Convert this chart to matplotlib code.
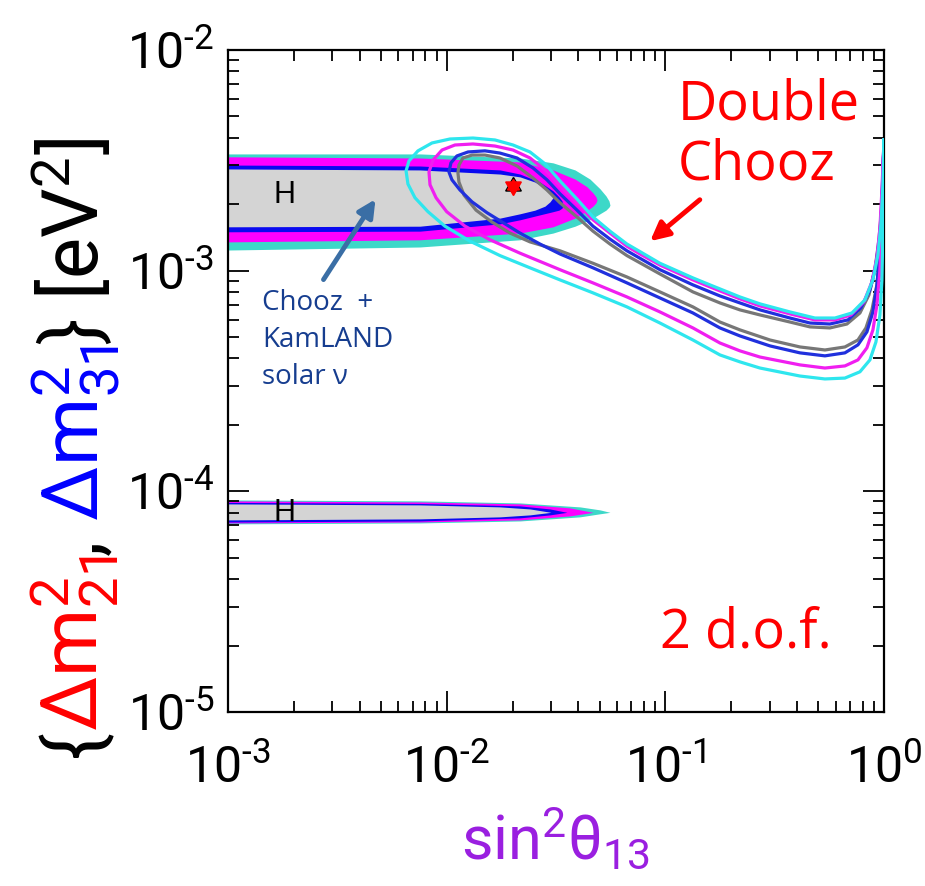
import numpy as np
import matplotlib.pyplot as plt
from matplotlib.ticker import LogLocator, NullFormatter, FuncFormatter

plt.rcParams['font.family'] = ['Roboto', 'DejaVu Sans']
plt.rcParams['mathtext.default'] = 'regular'

# atmospheric band (Chooz + KamLAND + solar), nested regions, outer to inner
atm_x_turq = [0.001, 0.00755, 0.02164, 0.03063, 0.03862, 0.04520, 0.05023, 0.05352, 0.05523, 0.05581]
atm_top_turq = [3.38e-3, 3.38e-3, 3.24e-3, 3.08e-3, 2.86e-3, 2.60e-3, 2.35e-3, 2.18e-3, 2.07e-3, 1.98e-3]
atm_bot_turq = [1.24e-3, 1.28e-3, 1.38e-3, 1.48e-3, 1.59e-3, 1.70e-3, 1.81e-3, 1.88e-3, 1.94e-3, 1.98e-3]
atm_x_mag = [0.001, 0.00755, 0.02164, 0.03063, 0.03862, 0.04379, 0.04667, 0.04817, 0.04868]
atm_top_mag = [3.28e-3, 3.24e-3, 3.11e-3, 2.86e-3, 2.60e-3, 2.40e-3, 2.25e-3, 2.16e-3, 2.09e-3]
atm_bot_mag = [1.35e-3, 1.38e-3, 1.48e-3, 1.58e-3, 1.73e-3, 1.87e-3, 1.96e-3, 2.03e-3, 2.09e-3]
atm_x_blue = [0.001, 0.00755, 0.01753, 0.02164, 0.02671, 0.03063, 0.03262, 0.03368, 0.03403]
atm_top_blue = [3.01e-3, 2.98e-3, 2.86e-3, 2.74e-3, 2.52e-3, 2.30e-3, 2.16e-3, 2.07e-3, 1.98e-3]
atm_bot_blue = [1.50e-3, 1.51e-3, 1.63e-3, 1.70e-3, 1.79e-3, 1.85e-3, 1.88e-3, 1.92e-3, 1.98e-3]
atm_x_gray = [0.001, 0.00755, 0.01753, 0.02164, 0.02533, 0.02815, 0.02967, 0.03063]
atm_top_gray = [2.89e-3, 2.86e-3, 2.74e-3, 2.66e-3, 2.52e-3, 2.37e-3, 2.25e-3, 2.14e-3]
atm_bot_gray = [1.58e-3, 1.59e-3, 1.73e-3, 1.81e-3, 1.88e-3, 1.96e-3, 2.05e-3, 2.14e-3]

# solar band
sol_x_turq = [0.001, 0.00755, 0.02164, 0.04070, 0.05023, 0.05581]
sol_top_turq = [9.14e-5, 9.05e-5, 8.86e-5, 8.50e-5, 8.24e-5, 8.03e-5]
sol_bot_turq = [7.12e-5, 7.19e-5, 7.34e-5, 7.66e-5, 7.91e-5, 8.03e-5]
sol_x_mag = [0.001, 0.00755, 0.02164, 0.03663, 0.04667]
sol_top_mag = [9.05e-5, 8.95e-5, 8.77e-5, 8.41e-5, 8.03e-5]
sol_bot_mag = [7.19e-5, 7.26e-5, 7.42e-5, 7.74e-5, 8.03e-5]
sol_x_blue = [0.001, 0.00755, 0.02164, 0.02967, 0.03549]
sol_top_blue = [8.91e-5, 8.81e-5, 8.59e-5, 8.32e-5, 8.03e-5]
sol_bot_blue = [7.26e-5, 7.34e-5, 7.58e-5, 7.82e-5, 8.03e-5]
sol_x_gray = [0.001, 0.00755, 0.01753, 0.02404, 0.02998]
sol_top_gray = [8.77e-5, 8.68e-5, 8.50e-5, 8.32e-5, 8.03e-5]
sol_bot_gray = [7.42e-5, 7.50e-5, 7.66e-5, 7.82e-5, 8.03e-5]

# Double Chooz contours: upper branch from the right edge, round the loop, back along the lower branch
dc_cyan_x = [1.0, 0.9885, 0.9678, 0.9378, 0.8897, 0.8179, 0.7133, 0.5963, 0.4831, 0.3713, 0.2708,
             0.2193, 0.1599, 0.1337, 0.09447, 0.07652, 0.06674, 0.05581, 0.04667, 0.03944, 0.03297,
             0.02815, 0.02404, 0.02011, 0.01663, 0.01319, 0.01035, 0.00857, 0.00739, 0.00672, 0.00652,
             0.00665, 0.00716, 0.00821, 0.00982, 0.01279, 0.01753, 0.02404, 0.03297, 0.04667, 0.06674,
             0.09447, 0.1337, 0.1777, 0.2193, 0.2708, 0.4126, 0.5368, 0.6624, 0.7760, 0.8621, 0.9183,
             0.9579, 0.9781, 0.9885, 1.0, 1.0]
dc_cyan_y = [3.91e-3, 2.45e-3, 1.61e-3, 1.18e-3, 9.08e-4, 7.37e-4, 6.43e-4, 6.10e-4, 6.10e-4, 6.50e-4, 7.07e-4,
             7.60e-4, 8.62e-4, 9.27e-4, 1.08e-3, 1.22e-3, 1.32e-3, 1.51e-3, 1.75e-3, 2.11e-3, 2.55e-3,
             3.05e-3, 3.45e-3, 3.71e-3, 3.91e-3, 3.99e-3, 3.95e-3, 3.79e-3, 3.49e-3, 3.14e-3, 2.83e-3,
             2.47e-3, 2.14e-3, 1.85e-3, 1.59e-3, 1.36e-3, 1.17e-3, 1.03e-3, 9.08e-4, 7.93e-4, 6.85e-4,
             5.79e-4, 4.85e-4, 4.15e-4, 3.86e-4, 3.62e-4, 3.33e-4, 3.23e-4, 3.26e-4, 3.48e-4, 3.94e-4, 4.75e-4,
             6.30e-4, 9.08e-4, 1.53e-3, 2.58e-3, 3.91e-3]
dc_mag_x = [1.0, 0.9781, 0.9579, 0.9280, 0.8804, 0.8093, 0.7057, 0.5963, 0.4831, 0.3713, 0.2708,
            0.2193, 0.1599, 0.1337, 0.09447, 0.07652, 0.06674, 0.05581, 0.04667, 0.03944, 0.03297,
            0.02815, 0.02404, 0.02011, 0.01663, 0.01319, 0.01091, 0.00952, 0.00866, 0.00830,
            0.00839, 0.00894, 0.0100, 0.01213, 0.01578, 0.02164, 0.03297, 0.04667, 0.06674, 0.09447,
            0.1337, 0.1777, 0.2193, 0.2708, 0.4126, 0.5368, 0.6624, 0.7599, 0.8352, 0.8897, 0.9280,
            0.9579, 0.9781, 0.9885, 1.0]
dc_mag_y = [3.91e-3, 2.32e-3, 1.56e-3, 1.15e-3, 8.89e-4, 7.22e-4, 6.30e-4, 5.98e-4, 5.98e-4, 6.37e-4, 6.92e-4,
            7.45e-4, 8.44e-4, 9.08e-4, 1.06e-3, 1.19e-3, 1.29e-3, 1.48e-3, 1.70e-3, 2.03e-3, 2.42e-3,
            2.86e-3, 3.24e-3, 3.52e-3, 3.67e-3, 3.75e-3, 3.71e-3, 3.52e-3, 3.17e-3, 2.80e-3,
            2.45e-3, 2.14e-3, 1.85e-3, 1.59e-3, 1.38e-3, 1.20e-3, 1.01e-3, 8.80e-4, 7.60e-4, 6.50e-4,
            5.50e-4, 4.70e-4, 4.33e-4, 4.06e-4, 3.74e-4, 3.62e-4, 3.70e-4, 3.94e-4, 4.47e-4, 5.39e-4, 6.99e-4,
            1.01e-3, 1.70e-3, 2.58e-3, 3.91e-3]
dc_blue_x = [1.0, 0.9781, 0.9579, 0.9183, 0.8621, 0.7842, 0.6838, 0.5655, 0.4584, 0.3713, 0.2708,
             0.2193, 0.1777, 0.1337, 0.09447, 0.06674, 0.05581, 0.04667, 0.03944, 0.03297, 0.02874,
             0.02481, 0.02097, 0.01753, 0.01497, 0.01252, 0.01114, 0.01046, 0.01024,
             0.01057, 0.01150, 0.01306, 0.01529, 0.01848, 0.02164, 0.02671, 0.03297, 0.04667, 0.06674,
             0.09447, 0.1337, 0.1777, 0.2193, 0.3008, 0.4126, 0.5368, 0.6624, 0.7599, 0.8352, 0.8897,
             0.9280, 0.9579, 0.9781, 1.0]
dc_blue_y = [3.91e-3, 2.09e-3, 1.45e-3, 1.06e-3, 8.18e-4, 6.78e-4, 5.98e-4, 5.73e-4, 5.79e-4, 6.10e-4, 6.64e-4,
             7.14e-4, 7.68e-4, 8.62e-4, 1.01e-3, 1.23e-3, 1.39e-3, 1.59e-3, 1.88e-3, 2.23e-3, 2.58e-3,
             2.92e-3, 3.24e-3, 3.41e-3, 3.49e-3, 3.45e-3, 3.31e-3, 3.08e-3, 2.80e-3,
             2.58e-3, 2.32e-3, 2.05e-3, 1.83e-3, 1.63e-3, 1.48e-3, 1.32e-3, 1.19e-3, 1.03e-3, 8.80e-4,
             7.52e-4, 6.43e-4, 5.50e-4, 5.06e-4, 4.56e-4, 4.24e-4, 4.11e-4, 4.24e-4, 4.61e-4, 5.28e-4, 6.50e-4,
             8.62e-4, 1.24e-3, 1.88e-3, 3.91e-3]
dc_gray_x = [1.0, 0.9781, 0.9478, 0.9086, 0.8531, 0.7760, 0.6767, 0.5655, 0.4584, 0.3713, 0.2708,
             0.2193, 0.1777, 0.1337, 0.09447, 0.06674, 0.05581, 0.04667, 0.03944, 0.03297, 0.02874,
             0.02481, 0.02097, 0.01753, 0.01497, 0.01306, 0.01187, 0.01138, 0.01126,
             0.01138, 0.01200, 0.01362, 0.01611, 0.01948, 0.02404, 0.03297, 0.04667, 0.06674, 0.09447,
             0.1337, 0.1777, 0.2193, 0.3008, 0.4126, 0.5368, 0.6624, 0.7599, 0.8265, 0.8804, 0.9280,
             0.9579, 0.9781, 1.0]
dc_gray_y = [3.91e-3, 1.98e-3, 1.38e-3, 1.01e-3, 7.76e-4, 6.43e-4, 5.73e-4, 5.50e-4, 5.56e-4, 5.85e-4, 6.30e-4,
             6.64e-4, 7.14e-4, 8.01e-4, 9.66e-4, 1.17e-3, 1.32e-3, 1.51e-3, 1.75e-3, 2.03e-3, 2.32e-3,
             2.63e-3, 2.98e-3, 3.24e-3, 3.34e-3, 3.34e-3, 3.24e-3, 3.01e-3, 2.77e-3,
             2.52e-3, 2.20e-3, 1.88e-3, 1.66e-3, 1.48e-3, 1.35e-3, 1.23e-3, 1.08e-3, 9.36e-4, 8.01e-4,
             6.85e-4, 5.85e-4, 5.39e-4, 4.85e-4, 4.51e-4, 4.37e-4, 4.51e-4, 4.85e-4, 5.50e-4, 6.64e-4,
             8.62e-4, 1.24e-3, 1.88e-3, 3.91e-3]

best_fit = (0.0201, 2.42e-3)

fill_cols = ['#3dd8c8', '#ff00ff', '#0a0af0', '#d4d4d4']
line_cols = ['#2ee6ee', '#f01ef0', '#2030dd', '#777777']

fig = plt.figure(figsize=(9.25, 8.86), dpi=100)
ax = fig.add_axes([0.2465, 0.1964, 0.7092, 0.7472])
ax.set_xscale('log')
ax.set_yscale('log')
ax.set_xlim(1e-3, 1)
ax.set_ylim(1e-5, 1e-2)

bands = [
    (atm_x_turq, atm_bot_turq, atm_top_turq), (atm_x_mag, atm_bot_mag, atm_top_mag),
    (atm_x_blue, atm_bot_blue, atm_top_blue), (atm_x_gray, atm_bot_gray, atm_top_gray),
    (sol_x_turq, sol_bot_turq, sol_top_turq), (sol_x_mag, sol_bot_mag, sol_top_mag),
    (sol_x_blue, sol_bot_blue, sol_top_blue), (sol_x_gray, sol_bot_gray, sol_top_gray),
]
for i, (x, lo, hi) in enumerate(bands):
    ax.fill_between(x, lo, hi, color=fill_cols[i % 4], lw=0, zorder=1)

for (x, y), c in zip([(dc_gray_x, dc_gray_y), (dc_blue_x, dc_blue_y),
                      (dc_mag_x, dc_mag_y), (dc_cyan_x, dc_cyan_y)], line_cols[::-1]):
    ax.plot(x, y, color=c, lw=2.3, zorder=3, solid_joinstyle='round')

# best-fit point: six-pointed star from two centred triangles
ax.plot(*best_fit, marker=(3, 0, 0), ms=13, color='black', zorder=4)
ax.plot(*best_fit, marker=(3, 0, 180), ms=13, color='red', zorder=5)
ax.plot(*best_fit, marker=(3, 0, 0), ms=10, color='red', zorder=6)

ax.text(1.82e-3, 2.2e-3, 'H', fontsize=22, va='center', ha='center', family='Liberation Sans', zorder=6)
ax.text(1.82e-3, 7.95e-5, 'H', fontsize=22, va='center', ha='center', family='Liberation Sans', zorder=6)

ax.text(0.1142, 7.5e-3, 'Double\nChooz', color='red', fontsize=39, va='top', ha='left',
        linespacing=1.12, family='Open Sans')
ax.annotate('', xy=(0.0833, 1.335e-3), xytext=(0.147, 2.135e-3),
            arrowprops=dict(arrowstyle='-|>', color='red', lw=3.5, mutation_scale=28))
ax.text(0.00143, 8.3e-4, 'Chooz  +\nKamLAND\nsolar ν', color='#163d8f', fontsize=20,
        va='top', ha='left', linespacing=1.45, family='Open Sans')
ax.annotate('', xy=(0.0048, 2.158e-3), xytext=(0.00269, 8.89e-4),
            arrowprops=dict(arrowstyle='-|>', color='#3a6ea5', lw=3.5, mutation_scale=26))
ax.text(0.0945, 1.95e-5, '2 d.o.f.', color='red', fontsize=39, va='baseline', ha='left',
        family='Open Sans')

fmt = FuncFormatter(lambda v, p: '$10^{\u2010%d}$' % -int(round(np.log10(v)))
                    if v < 0.5 else '$10^{0}$')
for axis in (ax.xaxis, ax.yaxis):
    axis.set_major_locator(LogLocator(base=10, numticks=10))
    axis.set_minor_locator(LogLocator(base=10, subs=np.arange(2, 10), numticks=20))
    axis.set_minor_formatter(NullFormatter())
    axis.set_major_formatter(fmt)
ax.tick_params(which='both', direction='in', top=True, right=True, width=1.3, labelsize=36)
ax.tick_params(which='major', length=15)
ax.tick_params(which='minor', length=8)
ax.tick_params(axis='x', which='major', pad=24)
ax.tick_params(axis='y', which='major', pad=10)
for s in ax.spines.values():
    s.set_linewidth(1.6)

ax.set_xlabel(r'sin$^2$θ$_{13}$', color='#9a1fe0', fontsize=44, labelpad=8)

# multi-coloured y label, built piece by piece along a vertical baseline
fig.canvas.draw()
rend = fig.canvas.get_renderer()
pieces = [('{', 'black'), (r'Δm$^2_{21}$', 'red'), (',', 'black'),
          (r' Δm$^2_{31}$', 'blue'), (r'} [eV$^2$]', 'black')]
ypos = 1 - 757 / 886
for s, c in pieces:
    t = fig.text(99 / 925, ypos, s, color=c, fontsize=56, rotation=90,
                 rotation_mode='anchor', ha='left', va='baseline')
    bb = t.get_window_extent(rend)
    ypos = bb.y1 / fig.bbox.height

fig.savefig('out.png', dpi=100)
